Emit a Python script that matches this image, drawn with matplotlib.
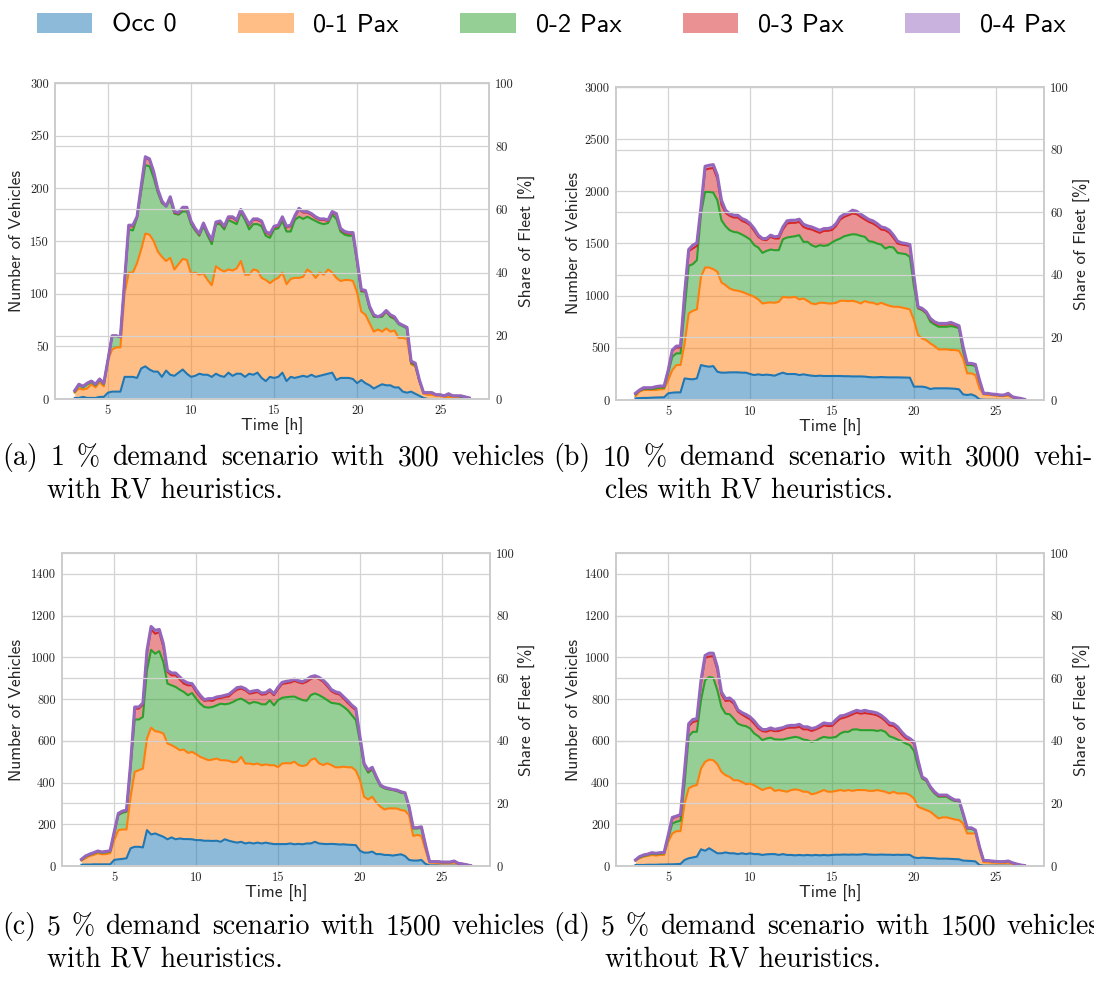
import numpy as np
import matplotlib
matplotlib.use("Agg")
import matplotlib.pyplot as plt
from matplotlib.patches import Patch
from matplotlib.ticker import MultipleLocator

# 15 min sampling of the simulated day
hours = np.arange(3.0, 27.0, 0.25)

labels = ["Occ 0", "0-1 Pax", "0-2 Pax", "0-3 Pax", "0-4 Pax"]
colors = ["#1f77b4", "#ff7f0e", "#2ca02c", "#d62728", "#9467bd"]

# (a) 1 % demand, 300 vehicles, with RV heuristics
occ0_a = [1, 1, 2, 1, 1, 1, 2, 2,
          6, 7, 7, 7, 21, 21, 21, 20,
          29, 31, 28, 26, 26, 21, 27, 23,
          22, 25, 28, 24, 21, 22, 24, 23,
          23, 21, 24, 22, 21, 25, 22, 24,
          24, 21, 24, 23, 25, 20, 17, 21,
          20, 21, 25, 17, 21, 20, 21, 22,
          21, 23, 21, 22, 23, 24, 25, 18,
          20, 20, 20, 19, 15, 18, 15, 13,
          10, 12, 14, 13, 13, 11, 11, 7,
          6, 7, 5, 3, 1, 0, 0, 0,
          0, 0, 0, 0, 0, 0, 0, 0]
pax01_a = [6, 10, 9, 10, 14, 11, 16, 12,
           37, 47, 49, 49, 100, 120, 120, 129,
           142, 157, 156, 150, 140, 135, 131, 134,
           123, 128, 133, 132, 119, 120, 118, 119,
           113, 108, 126, 123, 121, 123, 122, 124,
           131, 118, 118, 123, 122, 115, 113, 110,
           113, 115, 120, 109, 114, 115, 115, 116,
           123, 120, 115, 120, 118, 123, 120, 115,
           112, 113, 113, 112, 101, 83, 80, 72,
           64, 66, 64, 67, 64, 65, 58, 58,
           57, 33, 31, 17, 5, 4, 4, 3,
           3, 2, 2, 2, 2, 1, 1, 0]
pax02_a = [7, 13, 11, 14, 16, 13, 18, 14,
           37, 60, 60, 59, 110, 161, 160, 172,
           197, 222, 221, 210, 196, 186, 183, 189,
           176, 175, 178, 178, 166, 160, 155, 164,
           155, 147, 166, 166, 161, 170, 168, 166,
           177, 170, 161, 166, 166, 164, 155, 153,
           161, 162, 169, 159, 159, 170, 173, 171,
           173, 171, 169, 167, 166, 167, 175, 171,
           159, 156, 155, 155, 129, 102, 102, 86,
           78, 78, 78, 83, 78, 76, 71, 69,
           67, 34, 32, 17, 6, 6, 6, 4,
           4, 3, 4, 3, 3, 2, 2, 1]
pax03_a = [8, 14, 12, 15, 17, 14, 19, 15,
           37, 60, 60, 59, 111, 164, 164, 173,
           201, 229, 227, 215, 198, 187, 183, 191,
           177, 176, 181, 181, 168, 161, 156, 166,
           157, 150, 167, 168, 163, 172, 172, 169,
           179, 172, 165, 170, 170, 168, 158, 156,
           163, 164, 172, 163, 164, 173, 180, 177,
           177, 175, 172, 170, 170, 169, 177, 175,
           161, 158, 157, 157, 131, 103, 102, 87,
           79, 78, 79, 83, 79, 77, 72, 70,
           68, 35, 33, 17, 6, 6, 6, 4,
           4, 3, 5, 3, 3, 3, 2, 1]
pax04_a = [8, 14, 12, 15, 17, 14, 19, 15,
           37, 60, 60, 59, 112, 165, 165, 173,
           202, 230, 228, 216, 199, 188, 183, 192,
           178, 177, 182, 182, 169, 162, 157, 167,
           158, 151, 168, 169, 164, 173, 173, 170,
           180, 173, 166, 171, 171, 169, 159, 157,
           164, 165, 173, 164, 165, 174, 181, 178,
           178, 176, 173, 171, 171, 170, 178, 176,
           162, 159, 158, 158, 132, 104, 103, 88,
           80, 78, 80, 84, 80, 78, 72, 70,
           68, 36, 34, 18, 6, 6, 6, 4,
           4, 3, 5, 3, 3, 3, 2, 1]

# (b) 10 % demand, 3000 vehicles, with RV heuristics
occ0_b = [16, 18, 20, 20, 22, 24, 25, 26,
          64, 70, 73, 73, 207, 201, 198, 207,
          335, 325, 319, 325, 271, 262, 262, 265,
          265, 265, 262, 262, 249, 239, 246, 239,
          243, 239, 233, 249, 262, 249, 249, 249,
          239, 246, 239, 233, 230, 233, 230, 230,
          230, 230, 230, 228, 228, 226, 226, 226,
          224, 220, 217, 218, 220, 218, 217, 217,
          217, 216, 215, 214, 128, 128, 128, 121,
          105, 112, 112, 112, 112, 110, 108, 102,
          54, 48, 54, 38, 6, 3, 2, 2,
          1, 1, 1, 1, 1, 0, 0, 0]
pax01_b = [38, 80, 96, 96, 96, 96, 102, 105,
           191, 287, 335, 335, 542, 830, 855, 868,
           1181, 1270, 1270, 1254, 1229, 1126, 1101, 1069,
           1053, 1047, 1037, 1021, 1005, 989, 964, 925,
           932, 935, 932, 941, 989, 983, 983, 989,
           964, 973, 951, 925, 919, 932, 932, 925,
           925, 932, 951, 951, 948, 951, 941, 925,
           948, 935, 932, 916, 932, 916, 903, 894,
           894, 887, 878, 868, 766, 622, 590, 574,
           542, 517, 485, 485, 485, 479, 479, 472,
           399, 255, 255, 239, 112, 54, 48, 48,
           41, 38, 38, 41, 26, 16, 10, 3]
pax02_b = [54, 89, 105, 105, 105, 112, 118, 118,
           255, 415, 447, 447, 862, 1286, 1302, 1340,
           1787, 1994, 1994, 1988, 1915, 1723, 1666, 1627,
           1611, 1605, 1586, 1564, 1538, 1484, 1461, 1410,
           1429, 1442, 1436, 1436, 1541, 1557, 1564, 1570,
           1580, 1516, 1516, 1484, 1468, 1484, 1477, 1484,
           1510, 1532, 1548, 1570, 1580, 1589, 1586, 1573,
           1564, 1522, 1516, 1500, 1490, 1452, 1468, 1461,
           1410, 1404, 1398, 1372, 1085, 878, 862, 830,
           750, 724, 702, 702, 702, 708, 702, 686,
           463, 335, 335, 325, 182, 61, 61, 54,
           51, 45, 45, 54, 29, 19, 13, 6]
pax03_b = [61, 92, 113, 113, 113, 123, 129, 129,
           281, 472, 504, 504, 1005, 1426, 1452, 1477,
           1835, 2208, 2218, 2224, 2122, 1876, 1793, 1765,
           1749, 1749, 1717, 1701, 1675, 1621, 1564, 1538,
           1532, 1564, 1548, 1548, 1634, 1691, 1698, 1698,
           1707, 1659, 1643, 1634, 1618, 1602, 1621, 1621,
           1630, 1669, 1730, 1755, 1771, 1787, 1781, 1755,
           1730, 1707, 1691, 1666, 1634, 1627, 1602, 1554,
           1500, 1490, 1484, 1474, 1165, 884, 868, 836,
           772, 740, 724, 724, 724, 734, 718, 702,
           495, 345, 345, 335, 185, 62, 62, 55,
           52, 46, 46, 58, 30, 20, 14, 6]
pax04_b = [64, 96, 118, 118, 118, 128, 134, 134,
           287, 479, 517, 517, 1021, 1442, 1484, 1506,
           1851, 2240, 2250, 2256, 2154, 1915, 1819, 1787,
           1771, 1771, 1739, 1723, 1691, 1643, 1580, 1548,
           1548, 1580, 1564, 1570, 1659, 1717, 1723, 1723,
           1733, 1685, 1669, 1659, 1643, 1627, 1643, 1643,
           1655, 1691, 1755, 1781, 1793, 1819, 1809, 1781,
           1755, 1730, 1717, 1691, 1659, 1650, 1627, 1580,
           1522, 1506, 1500, 1490, 1181, 894, 878, 846,
           782, 750, 734, 734, 734, 744, 728, 712,
           511, 351, 351, 341, 191, 64, 64, 57,
           54, 48, 48, 64, 32, 22, 16, 6]

# (c) 5 % demand, 1500 vehicles, with RV heuristics
occ0_c = [6, 7, 7, 8, 8, 8, 8, 8,
          29, 32, 34, 37, 85, 92, 92, 89,
          172, 151, 156, 148, 140, 128, 137, 128,
          132, 129, 129, 128, 124, 124, 121, 121,
          120, 121, 116, 128, 121, 116, 112, 116,
          108, 112, 108, 112, 108, 112, 108, 105,
          105, 105, 105, 108, 104, 106, 104, 108,
          108, 116, 108, 106, 105, 106, 105, 103,
          104, 102, 101, 100, 73, 64, 64, 69,
          57, 57, 53, 53, 50, 53, 56, 48,
          29, 26, 26, 29, 10, 3, 3, 3,
          2, 2, 2, 2, 2, 1, 1, 0]
pax01_c = [26, 37, 48, 53, 61, 56, 57, 61,
           124, 172, 175, 175, 332, 451, 459, 467,
           611, 663, 646, 643, 635, 587, 579, 568,
           555, 558, 542, 547, 536, 523, 515, 507,
           510, 515, 507, 507, 504, 497, 500, 523,
           491, 491, 487, 491, 483, 487, 483, 483,
           474, 491, 493, 492, 500, 484, 479, 484,
           508, 516, 492, 484, 492, 484, 473, 473,
           476, 473, 473, 457, 412, 332, 319, 332,
           303, 284, 271, 276, 276, 276, 268, 265,
           244, 144, 149, 144, 77, 16, 16, 14,
           13, 13, 13, 16, 10, 6, 5, 2]
pax02_c = [29, 45, 53, 61, 67, 64, 65, 69,
           156, 244, 255, 260, 475, 702, 702, 714,
           938, 1036, 1017, 1030, 977, 874, 866, 858,
           845, 834, 818, 829, 802, 778, 762, 759,
           762, 770, 778, 775, 778, 786, 797, 802,
           791, 778, 786, 783, 775, 775, 794, 770,
           795, 806, 809, 811, 812, 803, 795, 792,
           819, 827, 819, 808, 795, 782, 779, 776,
           763, 747, 723, 699, 596, 484, 447, 463,
           420, 383, 372, 367, 364, 359, 351, 348,
           276, 180, 180, 184, 97, 20, 20, 20,
           18, 18, 18, 23, 12, 9, 5, 2]
pax03_c = [31, 47, 56, 63, 71, 66, 69, 72,
           161, 249, 260, 265, 486, 754, 754, 773,
           1020, 1134, 1113, 1121, 1049, 930, 914, 914,
           894, 874, 866, 866, 834, 810, 791, 794,
           791, 802, 805, 810, 813, 831, 845, 850,
           842, 826, 829, 834, 821, 823, 837, 818,
           848, 872, 876, 879, 887, 880, 875, 883,
           896, 904, 896, 883, 862, 838, 827, 822,
           803, 782, 763, 747, 612, 489, 455, 468,
           425, 385, 375, 370, 365, 362, 354, 349,
           281, 182, 182, 186, 99, 21, 21, 21,
           19, 19, 19, 24, 13, 10, 6, 2]
pax04_c = [32, 48, 57, 64, 72, 67, 70, 73,
           164, 252, 263, 268, 491, 762, 762, 781,
           1033, 1148, 1129, 1134, 1065, 938, 925, 925,
           906, 887, 877, 874, 845, 818, 797, 802,
           802, 810, 813, 818, 823, 839, 855, 858,
           850, 834, 839, 842, 829, 831, 845, 826,
           857, 880, 885, 888, 896, 888, 883, 894,
           907, 912, 904, 891, 872, 846, 835, 830,
           811, 792, 771, 755, 620, 492, 460, 473,
           428, 388, 377, 372, 367, 364, 356, 351,
           284, 184, 184, 188, 101, 21, 21, 21,
           19, 19, 19, 24, 13, 10, 6, 2]

# (d) 5 % demand, 1500 vehicles, without RV heuristics
occ0_d = [5, 5, 5, 6, 6, 6, 7, 7,
          8, 8, 9, 10, 29, 37, 41, 45,
          80, 73, 85, 73, 61, 61, 65, 61,
          61, 57, 61, 57, 61, 57, 57, 53,
          56, 57, 57, 53, 57, 53, 53, 51,
          53, 51, 53, 51, 53, 51, 53, 51,
          53, 54, 54, 55, 54, 55, 54, 55,
          57, 55, 54, 54, 55, 54, 54, 53,
          54, 53, 54, 53, 41, 38, 40, 39,
          38, 37, 35, 35, 35, 34, 33, 32,
          26, 25, 24, 22, 5, 2, 2, 2,
          2, 2, 2, 2, 1, 1, 1, 0]
pax01_d = [26, 37, 45, 48, 53, 50, 53, 53,
           116, 156, 167, 167, 300, 372, 383, 388,
           467, 499, 510, 507, 488, 451, 435, 427,
           411, 411, 403, 392, 395, 387, 375, 364,
           372, 376, 360, 364, 360, 356, 364, 367,
           364, 356, 356, 344, 348, 356, 364, 356,
           356, 360, 364, 360, 364, 360, 364, 364,
           364, 360, 360, 364, 360, 356, 348, 356,
           348, 348, 348, 340, 324, 284, 276, 268,
           260, 244, 228, 233, 233, 228, 223, 220,
           204, 156, 156, 156, 77, 18, 18, 16,
           16, 14, 14, 16, 10, 6, 3, 2]
pax02_d = [27, 41, 48, 53, 59, 56, 59, 61,
           132, 204, 212, 217, 395, 622, 643, 643,
           794, 890, 906, 902, 842, 762, 730, 727,
           706, 682, 674, 670, 659, 635, 622, 603,
           611, 615, 607, 606, 606, 611, 615, 619,
           615, 606, 603, 595, 600, 611, 619, 615,
           615, 619, 635, 643, 643, 654, 655, 651,
           651, 651, 651, 647, 651, 643, 622, 615,
           606, 598, 587, 579, 552, 475, 419, 408,
           372, 348, 332, 332, 332, 319, 311, 311,
           244, 179, 179, 169, 89, 25, 25, 23,
           21, 20, 20, 23, 15, 9, 4, 2]
pax03_d = [28, 44, 52, 56, 63, 60, 63, 64,
           145, 228, 236, 242, 451, 670, 690, 695,
           874, 997, 1004, 1006, 941, 823, 791, 794,
           778, 740, 726, 714, 703, 682, 659, 646,
           644, 651, 646, 647, 654, 662, 663, 663,
           667, 655, 655, 647, 654, 663, 674, 671,
           671, 690, 706, 711, 718, 727, 735, 730,
           733, 730, 727, 722, 711, 695, 674, 671,
           655, 631, 612, 603, 587, 502, 424, 411,
           376, 352, 336, 336, 336, 324, 314, 314,
           249, 181, 181, 170, 91, 25, 25, 23,
           21, 20, 20, 23, 15, 9, 5, 2]
pax04_d = [29, 45, 53, 57, 64, 61, 64, 65,
           148, 233, 239, 247, 459, 682, 702, 706,
           890, 1009, 1020, 1020, 954, 834, 802, 805,
           789, 749, 735, 726, 714, 695, 670, 654,
           654, 662, 655, 659, 663, 671, 674, 674,
           679, 667, 667, 659, 663, 674, 686, 682,
           682, 702, 719, 722, 730, 738, 746, 741,
           746, 741, 738, 733, 722, 706, 686, 682,
           667, 643, 622, 611, 595, 507, 427, 415,
           380, 356, 340, 340, 340, 327, 316, 316,
           252, 183, 183, 172, 92, 26, 26, 24,
           22, 21, 21, 24, 16, 10, 5, 2]

fleet_sizes = [300, 3000, 1500, 1500]
ytick_steps = [50, 500, 200, 200]

captions = [
    ("(a) 1 % demand scenario with 300 vehicles", "with RV heuristics."),
    ("(b) 10 % demand scenario with 3000 vehi-", "cles with RV heuristics."),
    ("(c) 5 % demand scenario with 1500 vehicles", "with RV heuristics."),
    ("(d) 5 % demand scenario with 1500 vehicles", "without RV heuristics."),
]

panels = [
    [occ0_a, pax01_a, pax02_a, pax03_a, pax04_a],
    [occ0_b, pax01_b, pax02_b, pax03_b, pax04_b],
    [occ0_c, pax01_c, pax02_c, pax03_c, pax04_c],
    [occ0_d, pax01_d, pax02_d, pax03_d, pax04_d],
]

# axes boxes in pixels: left, top, right, bottom
boxes = [(55, 83, 489, 399), (616, 87, 1044, 400),
         (62, 553, 490, 866), (616, 553, 1044, 866)]
# centres of the left / right axis labels in pixels
label_x = [(17, 527), (573, 1082), (17, 527), (573, 1082)]
# caption placement in pixels: x of line 1, x of line 2, right edge, baseline y
cap_pos = [(2, 47, 545, 465), (553, 605, 1093, 465),
           (2, 47, 545, 934), (553, 605, 1100, 934)]

W, H = 1094, 996
grid_c = "#d3d3d3"
text_c = "#262626"

fig = plt.figure(figsize=(W / 100, H / 100), dpi=100)


def style_axis(a):
    for s in a.spines.values():
        s.set_color("#cccccc")
        s.set_linewidth(1.2)
    a.tick_params(length=0, labelsize=9, labelcolor=text_c,
                  labelfontfamily="cmr10", pad=4.5)


for series, fleet, step, (l, t, r, b), (lx, rx) in zip(
        panels, fleet_sizes, ytick_steps, boxes, label_x):
    aw = r - l
    ax = fig.add_axes([l / W, 1 - b / H, aw / W, (b - t) / H])
    ax.set_axisbelow(True)
    ax.grid(True, color=grid_c, lw=0.9)
    lower = np.zeros(len(hours))
    for vals, col in zip(series, colors):
        vals = np.asarray(vals, dtype=float)
        ax.fill_between(hours, lower, vals, color=col, alpha=0.5, lw=0)
        lower = vals
    for i, (vals, col) in enumerate(zip(series, colors)):
        ax.plot(hours, vals, color=col, lw=2.2 if i == 4 else 1.5,
                solid_joinstyle="round")
    ax.set_ylim(0, fleet)
    ax.yaxis.set_major_locator(MultipleLocator(step))
    ax.xaxis.set_major_locator(MultipleLocator(5))
    style_axis(ax)
    ax.set_ylabel("Number of Vehicles", family="cmss10", fontsize=12.5,
                  color=text_c, va="center")
    ax.yaxis.set_label_coords((lx - l) / aw, 0.5)
    ax.set_xlabel("Time [h]", family="cmss10", fontsize=12.5, color=text_c,
                  va="center")
    ax.xaxis.set_label_coords(0.5, -27.5 / (b - t))

    # share of the fleet on the right hand side
    ax2 = ax.twinx()
    ax2.set_ylim(0, 100)
    ax2.yaxis.set_major_locator(MultipleLocator(20))
    ax2.grid(True, color=grid_c, lw=0.9)
    style_axis(ax2)
    ax2.set_ylabel("Share of Fleet [%]", family="cmss10", fontsize=12.5,
                   color=text_c)
    ax2.yaxis.label.set_va("center")
    ax2.yaxis.set_label_coords((rx - l) / aw, 0.5)

# captions set in justified lines like the thesis text
renderer = fig.canvas.get_renderer()
for (line1, line2), (x1, x2, xr, yb) in zip(captions, cap_pos):
    words = line1.split(" ")
    items = [fig.text(0, 1 - yb / H, w, family="cmr10", fontsize=20,
                      va="baseline", color="black") for w in words]
    widths = [it.get_window_extent(renderer).width for it in items]
    gap = (xr - x1 - sum(widths)) / (len(words) - 1)
    x = x1
    for it, w in zip(items, widths):
        it.set_x(x / W)
        x += w + gap
    fig.text(x2 / W, 1 - (yb + 32) / H, line2, family="cmr10", fontsize=20,
             va="baseline", color="black")

handles = [Patch(facecolor=c, alpha=0.5, lw=0) for c in colors]
fig.legend(handles, labels, loc="upper center", bbox_to_anchor=(0.504, 0.998),
           ncol=5, frameon=False, prop={"family": "cmss10", "size": 19},
           handlelength=2.1, handleheight=0.8, handletextpad=0.75,
           columnspacing=2.33, borderaxespad=0.0)

fig.savefig("out.png", dpi=100)
